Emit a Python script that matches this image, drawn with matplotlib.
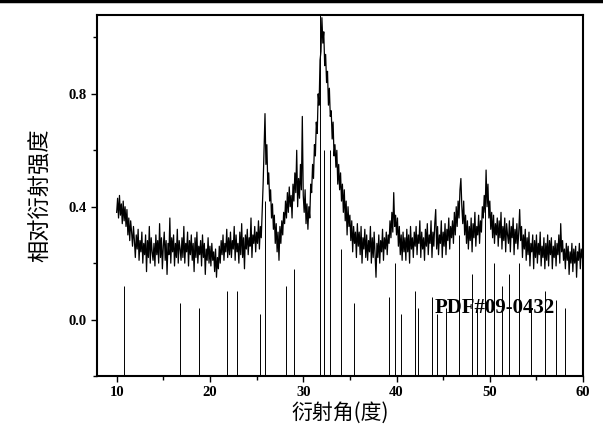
import numpy as np
import matplotlib
matplotlib.use('Agg')
import matplotlib.pyplot as plt
from matplotlib.lines import Line2D
from matplotlib.ticker import MultipleLocator

# measured pattern, 2theta from 10 to 60 in 0.1 deg steps (one row per degree)
two_theta = np.linspace(10, 60, 501)
intensity = [
    0.38, 0.43, 0.36, 0.44, 0.37, 0.41, 0.34, 0.42, 0.35, 0.40,
    0.33, 0.39, 0.30, 0.36, 0.28, 0.35, 0.31, 0.26, 0.33, 0.28,
    0.22, 0.30, 0.25, 0.32, 0.21, 0.28, 0.24, 0.31, 0.20, 0.27,
    0.23, 0.30, 0.17, 0.28, 0.22, 0.33, 0.20, 0.29, 0.24, 0.21,
    0.27, 0.19, 0.30, 0.23, 0.28, 0.20, 0.34, 0.22, 0.29, 0.18,
    0.26, 0.31, 0.21, 0.28, 0.16, 0.27, 0.23, 0.36, 0.20, 0.29,
    0.24, 0.30, 0.19, 0.27, 0.22, 0.32, 0.20, 0.28, 0.25, 0.21,
    0.29, 0.22, 0.33, 0.20, 0.27, 0.24, 0.31, 0.19, 0.28, 0.23,
    0.30, 0.21, 0.27, 0.17, 0.29, 0.22, 0.31, 0.20, 0.26, 0.23,
    0.28, 0.19, 0.30, 0.22, 0.27, 0.16, 0.25, 0.21, 0.29, 0.20,
    0.26, 0.19, 0.27, 0.21, 0.24, 0.17, 0.25, 0.15, 0.22, 0.18,
    0.26, 0.20, 0.28, 0.23, 0.30, 0.21, 0.27, 0.24, 0.32, 0.22,
    0.29, 0.23, 0.31, 0.22, 0.28, 0.25, 0.33, 0.21, 0.30, 0.24,
    0.27, 0.20, 0.31, 0.23, 0.34, 0.22, 0.29, 0.18, 0.30, 0.25,
    0.32, 0.23, 0.29, 0.26, 0.36, 0.22, 0.30, 0.27, 0.33, 0.24,
    0.31, 0.27, 0.35, 0.25, 0.33, 0.29, 0.38, 0.48, 0.60, 0.73,
    0.55, 0.62, 0.48, 0.52, 0.42, 0.46, 0.36, 0.41, 0.32, 0.37,
    0.27, 0.34, 0.24, 0.31, 0.21, 0.33, 0.27, 0.35, 0.30, 0.38,
    0.34, 0.42, 0.36, 0.45, 0.38, 0.47, 0.40, 0.44, 0.36, 0.48,
    0.42, 0.52, 0.45, 0.60, 0.40, 0.50, 0.43, 0.55, 0.46, 0.72,
    0.44, 0.38, 0.46, 0.34, 0.41, 0.32, 0.40, 0.36, 0.48, 0.45,
    0.55, 0.50, 0.62, 0.58, 0.70, 0.66, 0.80, 0.76, 0.92, 0.95,
    1.07, 0.98, 1.02, 0.90, 0.94, 0.84, 0.88, 0.76, 0.82, 0.72,
    0.74, 0.64, 0.70, 0.58, 0.62, 0.54, 0.60, 0.48, 0.55, 0.46,
    0.52, 0.42, 0.48, 0.38, 0.46, 0.35, 0.42, 0.30, 0.40, 0.33,
    0.37, 0.28, 0.35, 0.24, 0.33, 0.27, 0.31, 0.22, 0.34, 0.26,
    0.31, 0.23, 0.33, 0.20, 0.29, 0.25, 0.32, 0.22, 0.30, 0.21,
    0.28, 0.24, 0.33, 0.20, 0.29, 0.22, 0.31, 0.23, 0.15, 0.27,
    0.22, 0.30, 0.20, 0.28, 0.24, 0.32, 0.21, 0.29, 0.25, 0.31,
    0.23, 0.30, 0.27, 0.35, 0.29, 0.38, 0.31, 0.45, 0.33, 0.37,
    0.30, 0.36, 0.26, 0.33, 0.23, 0.30, 0.21, 0.31, 0.24, 0.29,
    0.21, 0.32, 0.24, 0.30, 0.20, 0.33, 0.25, 0.29, 0.22, 0.31,
    0.26, 0.33, 0.23, 0.30, 0.27, 0.35, 0.22, 0.31, 0.25, 0.29,
    0.21, 0.32, 0.26, 0.34, 0.23, 0.30, 0.27, 0.35, 0.22, 0.31,
    0.26, 0.34, 0.39, 0.25, 0.33, 0.23, 0.30, 0.27, 0.35, 0.22,
    0.31, 0.26, 0.34, 0.23, 0.32, 0.28, 0.36, 0.25, 0.33, 0.29,
    0.35, 0.27, 0.38, 0.30, 0.40, 0.33, 0.42, 0.36, 0.46, 0.50,
    0.40, 0.34, 0.42, 0.30, 0.37, 0.27, 0.35, 0.25, 0.33, 0.28,
    0.36, 0.24, 0.34, 0.29, 0.38, 0.26, 0.33, 0.30, 0.37, 0.27,
    0.35, 0.31, 0.40, 0.36, 0.44, 0.38, 0.53, 0.40, 0.48, 0.36,
    0.42, 0.32, 0.38, 0.29, 0.37, 0.27, 0.34, 0.30, 0.36, 0.26,
    0.35, 0.29, 0.38, 0.25, 0.33, 0.28, 0.36, 0.24, 0.34, 0.30,
    0.27, 0.35, 0.24, 0.33, 0.29, 0.36, 0.23, 0.32, 0.27, 0.34,
    0.25, 0.31, 0.39, 0.28, 0.33, 0.22, 0.30, 0.25, 0.32, 0.21,
    0.29, 0.23, 0.31, 0.19, 0.27, 0.24, 0.30, 0.18, 0.28, 0.22,
    0.30, 0.20, 0.27, 0.23, 0.31, 0.19, 0.26, 0.22, 0.29, 0.18,
    0.27, 0.21, 0.30, 0.19, 0.28, 0.23, 0.29, 0.18, 0.26, 0.22,
    0.28, 0.19, 0.27, 0.23, 0.30, 0.20, 0.34, 0.24, 0.28, 0.21,
    0.25, 0.18, 0.27, 0.21, 0.26, 0.16, 0.24, 0.20, 0.27, 0.17,
    0.25, 0.20, 0.26, 0.15, 0.24, 0.21, 0.27, 0.18, 0.25, 0.22,
    0.21,
]

# PDF#09-0432 reference lines (position, top of line)
pdf_pos = [10.82, 16.84, 18.78, 21.82, 22.90, 25.38, 25.88, 28.13, 28.97,
           31.77, 32.20, 32.90, 34.05, 35.48, 39.20, 39.82, 40.45, 42.03,
           42.32, 43.80, 44.37, 45.30, 46.71, 48.10, 48.62, 49.47, 50.49,
           51.28, 52.10, 53.14, 54.44, 55.88, 57.13, 58.07]
pdf_top = [0.12, 0.06, 0.04, 0.10, 0.10, 0.02, 0.42, 0.12, 0.18,
           1.10, 0.60, 0.60, 0.25, 0.06, 0.08, 0.20, 0.02, 0.10,
           0.04, 0.08, 0.02, 0.04, 0.30, 0.16, 0.04, 0.40, 0.20,
           0.12, 0.16, 0.20, 0.04, 0.10, 0.07, 0.04]
pdf_base = -0.2

fig = plt.figure(figsize=(6.03, 4.38), dpi=100)
ax = fig.add_axes([0.161, 0.1416, 0.806, 0.8244])

ax.vlines(pdf_pos, pdf_base, pdf_top, colors='black', linewidth=0.7)
ax.plot(two_theta, intensity, color='black', linewidth=0.9)

ax.set_xlim(7.9, 60)
ax.set_ylim(-0.2, 1.08)
ax.xaxis.set_major_locator(MultipleLocator(10))
ax.xaxis.set_minor_locator(MultipleLocator(5))
ax.yaxis.set_major_locator(MultipleLocator(0.4))
ax.yaxis.set_minor_locator(MultipleLocator(0.2))
ax.set_yticks([0.0, 0.4, 0.8])
ax.yaxis.set_major_formatter(plt.FuncFormatter(lambda v, p: '%.1f' % v))
ax.tick_params(which='both', direction='out', width=1.0)
ax.tick_params(which='major', length=4)
ax.tick_params(which='minor', length=3)
for lab in ax.get_xticklabels() + ax.get_yticklabels():
    lab.set_family('Liberation Serif')
    lab.set_fontweight('bold')
    lab.set_fontsize(10.5)
for s in ax.spines.values():
    s.set_linewidth(1.5)

ax.text(50.5, 0.04, 'PDF#09-0432', family='Liberation Serif', fontweight='bold',
        fontsize=15, ha='center', va='center')

ax.set_xlabel('衍射角(度)', family=['Noto Sans CJK SC', 'DejaVu Sans'],
              fontsize=15, labelpad=2)
ax.set_ylabel('相对衍射强度', family=['Noto Sans CJK SC', 'DejaVu Sans'],
              fontsize=16, labelpad=12)

# dark border at the top edge of the scanned image
fig.add_artist(Line2D([0, 1], [0.997, 0.997], color='black', linewidth=2.5,
                      transform=fig.transFigure))

fig.savefig('out.png', dpi=100)
